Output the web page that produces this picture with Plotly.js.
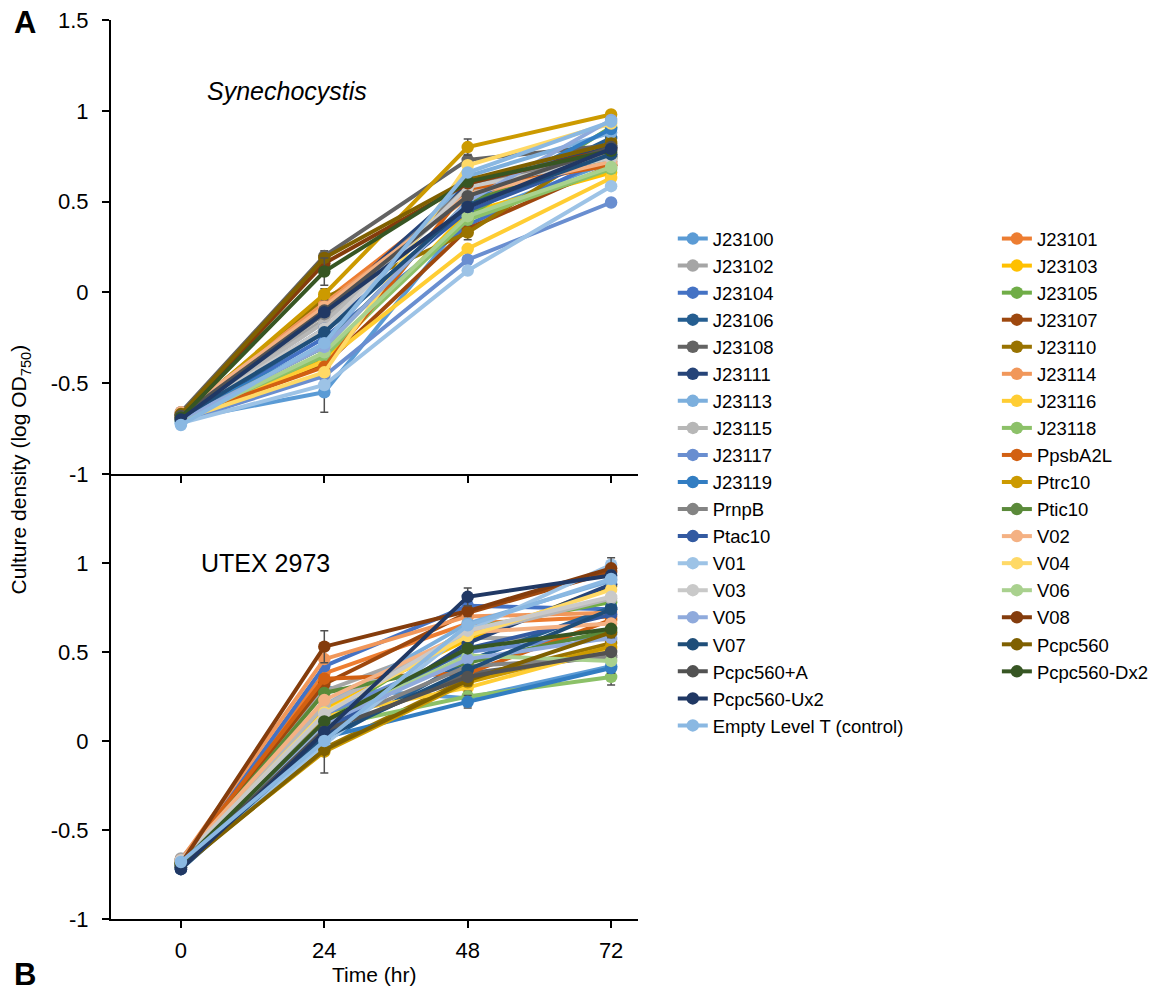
<!DOCTYPE html>
<html>
<head>
<meta charset="utf-8">
<script src="https://cdn.plot.ly/plotly-3.0.1.min.js"></script>
<style>html,body{margin:0;padding:0;background:#fff;}</style>
</head>
<body>
<div id="chart" style="width:1176px;height:998px;"></div>
<script>
// ---- Data ----
const timeHr = [0, 24, 48, 72];

// series in drawing order (row-major over the two legend columns)
const seriesNames = [
  "J23100","J23101","J23102","J23103","J23104","J23105","J23106","J23107",
  "J23108","J23110","J23111","J23114","J23113","J23116","J23115","J23118",
  "J23117","PpsbA2L","J23119","Ptrc10","PrnpB","Ptic10","Ptac10","V02",
  "V01","V04","V03","V06","V05","V08","V07","Pcpc560","Pcpc560+A",
  "Pcpc560-Dx2","Pcpc560-Ux2","Empty Level T (control)"
];
// which legend column each series belongs to (1 = left, 2 = right)
const legendColumn = [1,2,1,2,1,2,1,2,1,2,1,2,1,2,1,2,1,2,1,2,1,2,1,2,1,2,1,2,1,2,1,2,1,2,1,1];

const seriesColors = [
  "#5B9BD5","#ED7D31","#A5A5A5","#FFC000","#4472C4","#70AD47","#255E91","#9E480E",
  "#636363","#997300","#264478","#F1975A","#7CAFDD","#FFCD33","#B7B7B7","#8CC168",
  "#698ED0","#D26012","#327DC2","#CC9A00","#848484","#5A8A39","#335AA1","#F4B183",
  "#9DC3E6","#FFD966","#C9C9C9","#A9D18E","#8FAADC","#843C0C","#1F4E79","#7F6000",
  "#525252","#375623","#203864","#8AB8E2"
];

// Synechocystis: log OD750 at 0, 24, 48, 72 h
const synechocystis = [
  [-0.70,-0.55,0.42,0.72],  // J23100
  [-0.68,-0.05,0.56,0.75],  // J23101
  [-0.67,-0.15,0.60,0.73],  // J23102
  [-0.70,-0.37,0.44,0.66],  // J23103
  [-0.71,-0.25,0.37,0.75],  // J23104
  [-0.69,-0.35,0.42,0.91],  // J23105
  [-0.70,-0.22,0.47,0.85],  // J23106
  [-0.69,-0.40,0.35,0.70],  // J23107
  [-0.66, 0.20,0.73,0.81],  // J23108
  [-0.68,-0.03,0.33,0.83],  // J23110
  [-0.70,-0.10,0.60,0.80],  // J23111
  [-0.67,-0.06,0.52,0.72],  // J23114
  [-0.72,-0.28,0.64,0.88],  // J23113
  [-0.70,-0.38,0.24,0.63],  // J23116
  [-0.69,-0.165,0.55,0.77], // J23115
  [-0.70,-0.35,0.40,0.68],  // J23118
  [-0.71,-0.46,0.18,0.495], // J23117
  [-0.69,-0.41,0.57,0.70],  // PpsbA2L
  [-0.68,-0.30,0.50,0.90],  // J23119
  [-0.69,-0.01,0.80,0.98],  // Ptrc10
  [-0.67,-0.12,0.58,0.77],  // PrnpB
  [-0.70,-0.30,0.50,0.74],  // Ptic10
  [-0.70,-0.20,0.45,0.76],  // Ptac10
  [-0.66,-0.08,0.54,0.72],  // V02
  [-0.72,-0.51,0.12,0.585], // V01
  [-0.70,-0.44,0.70,0.93],  // V04
  [-0.69,-0.20,0.58,0.74],  // V03
  [-0.71,-0.33,0.42,0.69],  // V06
  [-0.70,-0.30,0.50,0.95],  // V05
  [-0.68, 0.16,0.60,0.79],  // V08
  [-0.69,-0.22,0.48,0.76],  // V07
  [-0.67, 0.19,0.62,0.82],  // Pcpc560
  [-0.68,-0.10,0.53,0.80],  // Pcpc560+A
  [-0.69, 0.115,0.61,0.78], // Pcpc560-Dx2
  [-0.70,-0.11,0.47,0.79],  // Pcpc560-Ux2
  [-0.73,-0.28,0.66,0.94]   // Empty Level T (control)
];

// UTEX 2973: log OD750 at 0, 24, 48, 72 h
const utex2973 = [
  [-0.70, 0.30,0.24,0.42],  // J23100
  [-0.68, 0.38,0.66,0.70],  // J23101
  [-0.66, 0.28,0.58,0.57],  // J23102
  [-0.69, 0.18,0.57,0.87],  // J23103
  [-0.70, 0.42,0.76,0.74],  // J23104
  [-0.68, 0.12,0.63,0.78],  // J23105
  [-0.72, 0.00,0.45,0.75],  // J23106
  [-0.69, 0.32,0.72,0.95],  // J23107
  [-0.67, 0.04,0.38,0.48],  // J23108
  [-0.70,-0.04,0.35,0.55],  // J23110
  [-0.71, 0.03,0.55,0.88],  // J23111
  [-0.67, 0.46,0.70,0.72],  // J23114
  [-0.70, 0.20,0.66,0.90],  // J23113
  [-0.69, 0.14,0.30,0.52],  // J23116
  [-0.68, 0.20,0.60,0.80],  // J23115
  [-0.70, 0.08,0.25,0.36],  // J23118
  [-0.69, 0.15,0.50,0.60],  // J23117
  [-0.68, 0.35,0.38,0.68],  // PpsbA2L
  [-0.71, 0.02,0.22,0.41],  // J23119
  [-0.70,-0.06,0.33,0.53],  // Ptrc10
  [-0.67, 0.08,0.42,0.47],  // PrnpB
  [-0.69, 0.27,0.44,0.62],  // Ptic10
  [-0.70, 0.06,0.52,0.71],  // Ptac10
  [-0.67, 0.23,0.61,0.66],  // V02
  [-0.70,-0.02,0.62,0.99],  // V01
  [-0.68, 0.16,0.59,0.85],  // V04
  [-0.67, 0.15,0.62,0.81],  // V03
  [-0.69, 0.10,0.48,0.45],  // V06
  [-0.70, 0.10,0.46,0.58],  // V05
  [-0.69, 0.53,0.73,0.97],  // V08
  [-0.71, 0.02,0.40,0.74],  // V07
  [-0.71,-0.05,0.34,0.61],  // Pcpc560
  [-0.70, 0.06,0.36,0.50],  // Pcpc560+A
  [-0.69, 0.11,0.52,0.63],  // Pcpc560-Dx2
  [-0.72, 0.05,0.81,0.93],  // Pcpc560-Ux2
  [-0.68, 0.00,0.65,0.91]   // Empty Level T (control)
];

// visible error bars (standard deviation), keyed by series name
const synechocystisErr = {
  "J23100":      [0.02,0.11,0.03,0.03],
  "J23108":      [0.02,0.03,0.03,0.02],
  "J23110":      [0.02,0.03,0.04,0.02],
  "Ptrc10":      [0.02,0.03,0.045,0.02],
  "Pcpc560-Dx2": [0.02,0.075,0.03,0.02]
};
const utex2973Err = {
  "V08":         [0.02,0.09,0.03,0.06],
  "Pcpc560":     [0.02,0.13,0.03,0.03],
  "J23119":      [0.02,0.03,0.035,0.03],
  "Pcpc560-Ux2": [0.02,0.03,0.05,0.03],
  "J23118":      [0.02,0.03,0.03,0.045]
};

// ---- Traces ----
const FONT = "Arial, 'Liberation Sans', sans-serif";
const traces = [];
function makeTrace(i, vals, errs, xa, ya, showLegend) {
  const e = errs[seriesNames[i]];
  const t = {
    type: "scatter", mode: "lines+markers",
    x: timeHr, y: vals[i],
    name: seriesNames[i],
    legendgroup: seriesNames[i],
    legend: legendColumn[i] === 1 ? "legend" : "legend2",
    showlegend: showLegend,
    xaxis: xa, yaxis: ya,
    line: {color: seriesColors[i], width: 4},
    marker: {color: seriesColors[i], size: 12.5},
    cliponaxis: false
  };
  if (e) {
    t.error_y = {type: "data", array: e, visible: true, color: "#505050", thickness: 1.5, width: 4};
  }
  return t;
}
for (let i = 0; i < seriesNames.length; i++) {
  traces.push(makeTrace(i, synechocystis, synechocystisErr, "x2", "y2", true));
}
for (let i = 0; i < seriesNames.length; i++) {
  traces.push(makeTrace(i, utex2973, utex2973Err, "x", "y", false));
}

const axisCommon = {
  showline: true, linecolor: "#000", linewidth: 2,
  ticks: "outside", ticklen: 7, tickwidth: 2, tickcolor: "#000",
  showgrid: false, zeroline: false,
  tickfont: {family: FONT, size: 22, color: "#000"}
};

const legendFont = {family: FONT, size: 18.5, color: "#000"};

const layout = {
  width: 1176, height: 998,
  margin: {l: 111, r: 538, t: 20, b: 79},
  paper_bgcolor: "#fff", plot_bgcolor: "#fff",
  font: {family: FONT, color: "#000"},
  xaxis: Object.assign({}, axisCommon, {
    anchor: "y", domain: [0, 1], range: [-11.7, 76.5],
    tickvals: timeHr, ticktext: timeHr.map(String), ticklabelstandoff: 4
  }),
  xaxis2: Object.assign({}, axisCommon, {
    anchor: "y2", domain: [0, 1], range: [-11.7, 76.5], matches: "x",
    tickvals: timeHr, showticklabels: false
  }),
  yaxis: Object.assign({}, axisCommon, {
    anchor: "x", domain: [0, 0.495], range: [-1, 1.5],
    tickvals: [-1, -0.5, 0, 0.5, 1], ticktext: ["-1", "-0.5", "0", "0.5", "1"],
    ticklabelstandoff: 9
  }),
  yaxis2: Object.assign({}, axisCommon, {
    anchor: "x2", domain: [0.495, 1], range: [-1, 1.5],
    tickvals: [-1, -0.5, 0, 0.5, 1, 1.5], ticktext: ["-1", "-0.5", "0", "0.5", "1", "1.5"],
    ticklabelstandoff: 9
  }),
  legend: {
    x: 1.066, y: 0.7775, xanchor: "left", yanchor: "top",
    font: legendFont, bgcolor: "rgba(0,0,0,0)", tracegroupgap: 0
  },
  legend2: {
    x: 1.681, y: 0.7775, xanchor: "left", yanchor: "top",
    font: legendFont, bgcolor: "rgba(0,0,0,0)", tracegroupgap: 0
  },
  annotations: [
    {xref: "x2", yref: "y2", x: 4, y: 1.11, xanchor: "left", yanchor: "middle",
     text: "<i>Synechocystis</i>", showarrow: false,
     font: {family: FONT, size: 25, color: "#000"}},
    {xref: "x", yref: "y", x: 3, y: 1.0, xanchor: "left", yanchor: "middle",
     text: "UTEX 2973", showarrow: false,
     font: {family: FONT, size: 25, color: "#000"}},
    {xref: "paper", yref: "paper", x: -0.1727, y: 0.5, xanchor: "center", yanchor: "middle",
     text: "Culture density (log OD<sub>750</sub>)", textangle: -90, showarrow: false,
     font: {family: FONT, size: 21, color: "#000"}},
    {xref: "paper", yref: "paper", x: 0.499, y: -0.062, xanchor: "center", yanchor: "middle",
     text: "Time (hr)", showarrow: false,
     font: {family: FONT, size: 21, color: "#000"}},
    {xref: "paper", yref: "paper", x: -0.163, y: 0.997, xanchor: "center", yanchor: "middle",
     text: "<b>A</b>", showarrow: false,
     font: {family: FONT, size: 31, color: "#000"}},
    {xref: "paper", yref: "paper", x: -0.163, y: -0.062, xanchor: "center", yanchor: "middle",
     text: "<b>B</b>", showarrow: false,
     font: {family: FONT, size: 31, color: "#000"}}
  ]
};

Plotly.newPlot("chart", traces, layout, {staticPlot: true, displayModeBar: false});
</script>
</body>
</html>
